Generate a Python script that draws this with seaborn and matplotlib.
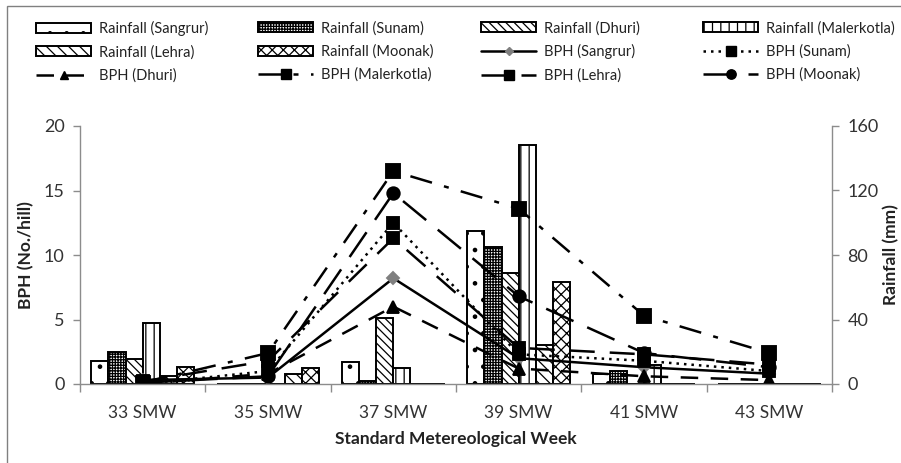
import numpy as np
import pandas as pd
import matplotlib
matplotlib.use("Agg")
import matplotlib.pyplot as plt
from matplotlib.patches import Patch, Rectangle
from matplotlib.lines import Line2D
import seaborn as sns

weeks = ["33 SMW", "35 SMW", "37 SMW", "39 SMW", "41 SMW", "43 SMW"]
sites = ["Sangrur", "Sunam", "Dhuri", "Malerkotla", "Lehra", "Moonak"]

rain_sangrur = [14, 0, 13.5, 95, 6, 0]
rain_sunam = [20, 0, 2, 85, 8, 0]
rain_dhuri = [15.5, 0, 41, 69, 0, 0]
rain_malerkotla = [38, 0, 10, 148, 12, 0]
rain_lehra = [5, 6, 0, 24, 0, 0]
rain_moonak = [10.5, 10, 0, 63, 0, 0]

bph_sangrur = [0.3, 0.5, 8.2, 2.0, 1.3, 0.8]
bph_sunam = [0.0, 1.0, 12.5, 2.3, 1.8, 1.0]
bph_dhuri = [0.0, 0.8, 6.0, 1.2, 0.6, 0.3]
bph_malerkotla = [0.1, 2.4, 16.5, 13.6, 5.3, 2.4]
bph_lehra = [0.2, 1.8, 11.3, 2.8, 2.3, 1.5]
bph_moonak = [0.1, 0.6, 14.8, 6.8, 2.4, 1.3]

rain = [rain_sangrur, rain_sunam, rain_dhuri, rain_malerkotla, rain_lehra, rain_moonak]
bph = [bph_sangrur, bph_sunam, bph_dhuri, bph_malerkotla, bph_lehra, bph_moonak]

rain_df = pd.DataFrame([(w, s, v) for s, vals in zip(sites, rain) for w, v in zip(weeks, vals)],
                       columns=["week", "site", "rain"])

sns.set_theme(style="white")
plt.rcParams['font.family'] = ['Lato', 'DejaVu Sans']
plt.rcParams['hatch.linewidth'] = 0.9
plt.rcParams['hatch.color'] = 'black'

fig = plt.figure(figsize=(9.01, 4.63), dpi=100)
ax1 = fig.add_axes([80/901, 1-384/463, (832-80)/901, (384-126)/463])
ax2 = ax1.twinx()

sns.barplot(data=rain_df, x="week", y="rain", hue="site", order=weeks, hue_order=sites,
            palette=["white"]*6, saturation=1, edgecolor="black", linewidth=1.4,
            width=0.82, errorbar=None, legend=False, ax=ax2)
hatches = ['.', '++++++', '\\\\\\\\', '||', '\\\\\\', 'xxx']
for cont, h in zip(ax2.containers, hatches):
    for bar in cont:
        bar.set_hatch(h)
        bar.set_facecolor('white')
        bar.set_edgecolor('black')

styles = {
    "Sangrur": dict(linestyle='-', marker='D', color='black', mfc='#7f7f7f', mec='#7f7f7f', markersize=6),
    "Sunam": dict(linestyle=(0, (1, 2)), marker='s', color='black', markersize=9),
    "Dhuri": dict(linestyle=(0, (7, 5)), marker='^', color='black', markersize=8),
    "Malerkotla": dict(linestyle=(0, (9, 5, 2, 5)), marker='s', color='black', markersize=10),
    "Lehra": dict(linestyle=(0, (10, 6)), marker='s', color='black', markersize=9),
    "Moonak": dict(linestyle=(0, (12, 6)), marker='o', color='black', markersize=9),
}

for s, vals in zip(sites, bph):
    st = styles[s]
    sns.pointplot(x=weeks, y=vals, order=weeks, color=st['color'], ax=ax1,
                  marker=st['marker'], linestyle=st['linestyle'], markersize=st['markersize'],
                  markerfacecolor=st.get('mfc', 'black'), markeredgecolor=st.get('mec', 'black'),
                  linewidth=1.8, errorbar=None)

ax1.set_zorder(ax2.get_zorder() + 1)
ax1.patch.set_visible(False)

ax1.set_xlim(-0.5, 5.5)
ax1.set_ylim(0, 20)
ax2.set_ylim(0, 160)
ax1.set_yticks([0, 5, 10, 15, 20])
ax2.set_yticks([0, 40, 80, 120, 160])
ax1.set_xticks(range(6))
ax1.set_xticklabels(weeks)
ax1.set_xticks(np.arange(-0.5, 6.0, 1.0), minor=True)

spine_c = '#8c8c8c'
for ax in (ax1, ax2):
    ax.spines['top'].set_visible(False)
    for sp in ['left', 'right', 'bottom']:
        ax.spines[sp].set_color(spine_c)
        ax.spines[sp].set_linewidth(1.0)
ax1.spines['right'].set_visible(False)
ax2.spines['left'].set_visible(False)
ax2.spines['bottom'].set_visible(False)

ax1.tick_params(axis='y', which='major', left=True, direction='out', length=5, width=1,
                color=spine_c, labelsize=13, labelcolor='#333333', pad=6)
ax2.tick_params(axis='y', which='major', right=True, direction='out', length=5, width=1,
                color=spine_c, labelsize=13, labelcolor='#333333', pad=6)
ax1.tick_params(axis='x', which='major', bottom=False, labelsize=12.5, labelcolor='#333333', pad=9)
ax1.tick_params(axis='x', which='minor', bottom=True, direction='out', length=6, width=1, color=spine_c)

ax1.set_xlabel("Standard Metereological Week", fontsize=12.5, fontweight='bold', color='#222222', labelpad=7)
ax1.set_ylabel("BPH (No./hill)", fontsize=12.5, fontweight='bold', color='#222222', labelpad=7)
ax2.set_ylabel("Rainfall (mm)", fontsize=12.5, fontweight='bold', color='#222222', labelpad=3)
ax1.grid(False)
ax2.grid(False)

# legend: 4 columns, entries ordered as in the reference (row-major)
rain_handles = [Patch(facecolor='white', edgecolor='black', hatch=h, linewidth=1.4) for h in hatches]
line_handles = [Line2D([0], [0], color='black', linewidth=1.8, linestyle=styles[s]['linestyle'],
                       marker=styles[s]['marker'], markersize=styles[s]['markersize'] * 0.75,
                       markerfacecolor=styles[s].get('mfc', 'black'),
                       markeredgecolor=styles[s].get('mec', 'black')) for s in sites]
all_h = rain_handles + line_handles
all_l = [f"Rainfall ({s})" for s in sites] + [f"BPH ({s})" for s in sites]
col_x = [36, 258, 481, 703]
for c in range(4):
    idx = [r * 4 + c for r in range(3)]
    fig.legend([all_h[i] for i in idx], [all_l[i] for i in idx], loc='upper left',
               bbox_to_anchor=(col_x[c] / 901, 1 - 21 / 463), frameon=False, ncol=1,
               fontsize=10.5, handlelength=3.8, handletextpad=0.55, labelspacing=0.62,
               borderpad=0, borderaxespad=0, labelcolor='#222222')

fig.add_artist(Rectangle((7/901, -0.05), 1.2, 1.05 - 6/463, transform=fig.transFigure,
                         fill=False, edgecolor='#808080', linewidth=1.0, clip_on=False))

fig.savefig("out.png", dpi=100, facecolor='white')
